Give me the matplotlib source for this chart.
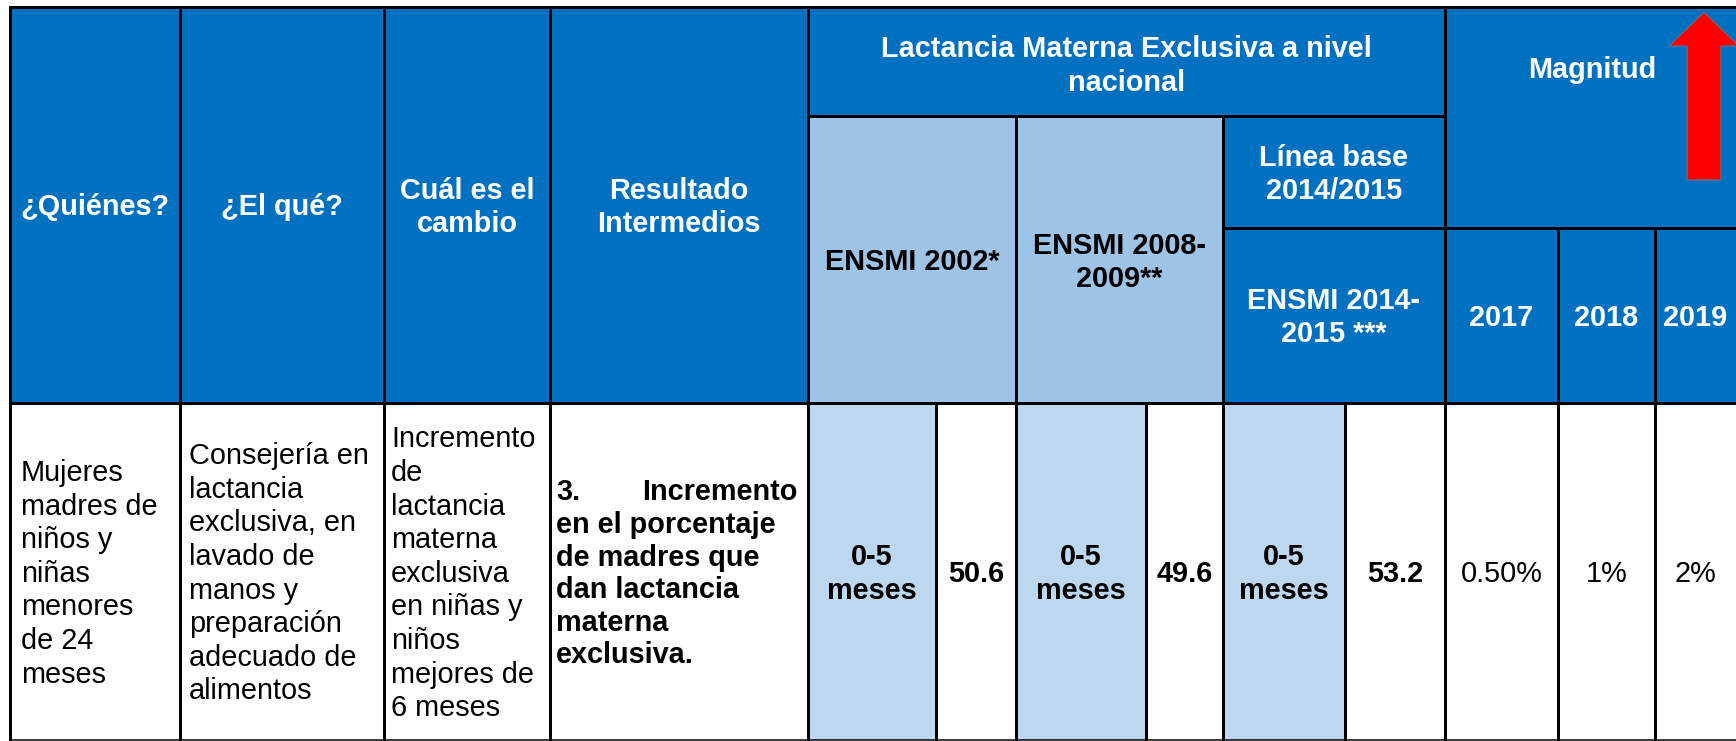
import matplotlib
matplotlib.use('Agg')
import matplotlib.pyplot as plt
from matplotlib.patches import Rectangle, Polygon

plt.rcParams['font.family'] = ['Liberation Sans', 'DejaVu Sans']

# ---------------- data ----------------
header_main = ['¿Quiénes?', '¿El qué?', 'Cuál es el\ncambio', 'Resultado\nIntermedios']
group_title = 'Lactancia Materna Exclusiva a nivel\nnacional'
baseline_title = 'Línea base\n2014/2015'
surveys = ['ENSMI 2002*', 'ENSMI 2008-\n2009**', 'ENSMI 2014-\n2015 ***']
age_groups = ['0-5\nmeses', '0-5\nmeses', '0-5\nmeses']
lme_values = [50.6, 49.6, 53.2]
magnitud_title = 'Magnitud'
magnitud_years = ['2017', '2018', '2019']
magnitud_targets = ['0.50%', '1%', '2%']
quienes = ['Mujeres', 'madres de', 'niños y', 'niñas', 'menores', 'de 24', 'meses']
el_que = ['Consejería en', 'lactancia', 'exclusiva, en', 'lavado de', 'manos y',
          'preparación', 'adecuado de', 'alimentos']
cambio = ['Incremento', 'de', 'lactancia', 'materna', 'exclusiva', 'en niñas y',
          'niños', 'mejores de', '6 meses']
resultado = ['3. Incremento', 'en el porcentaje', 'de madres que', 'dan lactancia',
             'materna', 'exclusiva.']

# ---------------- layout ----------------
W, H, DPI = 1736, 741, 100
X = [10, 180, 384, 550, 808, 1016, 1223, 1445, 1558, 1655, 1736]
SUB = [936, 1146, 1345]
Y_TOP, Y_G, Y_B, Y_HB, Y_BOT = 7, 116, 228, 403, 740

DARK = '#0070C0'
LIGHT_HDR = '#9DC3E6'
LIGHT_CELL = '#BDD7EE'

FS = 20.8
EM = FS / 72 * DPI
CAP = 0.716 * EM
LW = 3 * 72 / DPI

fig = plt.figure(figsize=(W / DPI, H / DPI), dpi=DPI)
ax = fig.add_axes([0, 0, 1, 1])
ax.set_xlim(0, W)
ax.set_ylim(H, 0)
ax.axis('off')


def rect(x0, y0, x1, y1, color):
    ax.add_patch(Rectangle((x0, y0), x1 - x0, y1 - y0, facecolor=color,
                           edgecolor='none', zorder=1))


def hline(y, x0, x1, lw=LW):
    ax.plot([x0, x1], [y, y], color='black', lw=lw, solid_capstyle='projecting', zorder=3)


def vline(x, y0, y1, lw=LW):
    ax.plot([x, x], [y0, y1], color='black', lw=lw, solid_capstyle='projecting', zorder=3)


def block(x, yc, lines, sp, ha='center', color='black', weight='normal'):
    n = len(lines)
    y0 = yc - ((n - 1) * sp + CAP) / 2 + CAP
    out = []
    for i, s in enumerate(lines):
        ax.text(x, y0 + i * sp, s, ha=ha, va='baseline', fontsize=FS,
                color=color, fontweight=weight, zorder=4)
        out.append(y0 + i * sp)
    return out


# backgrounds
rect(X[0], Y_TOP, W, Y_HB, DARK)
rect(X[4], Y_G, X[6], Y_HB, LIGHT_HDR)
rect(X[0], Y_HB, W, Y_BOT, 'white')
for xs, xe in [(X[4], SUB[0]), (X[5], SUB[1]), (X[6], SUB[2])]:
    rect(xs, Y_HB, xe, Y_BOT, LIGHT_CELL)

# header texts
HSP = 33
hy = (Y_TOP + Y_HB) / 2
for i, lab in enumerate(header_main):
    block((X[i] + X[i + 1]) / 2, hy, lab.split('\n'), HSP, color='white', weight='bold')
block((X[4] + X[7]) / 2, 63.5, group_title.split('\n'), 34, color='white', weight='bold')
block(1592, 68, [magnitud_title], HSP, color='white', weight='bold')
block((X[4] + X[5]) / 2, 260, surveys[0].split('\n'), HSP, weight='bold')
block((X[5] + X[6]) / 2, 260, surveys[1].split('\n'), HSP, weight='bold')
block((X[6] + X[7]) / 2, (Y_G + Y_B) / 2, baseline_title.split('\n'), HSP,
      color='white', weight='bold')
block((X[6] + X[7]) / 2, (Y_B + Y_HB) / 2, surveys[2].split('\n'), HSP,
      color='white', weight='bold')
for i, yr in enumerate(magnitud_years):
    block((X[7 + i] + X[8 + i]) / 2, (Y_B + Y_HB) / 2, [yr], HSP,
          color='white', weight='bold')

# data row texts
DY = (Y_HB + Y_BOT) / 2
DSP = 33.6
block(21, DY, quienes, DSP, ha='left')
block(189, DY, el_que, DSP, ha='left')
block(391, DY, cambio, DSP, ha='left')
first, rest = resultado[0].split(' ', 1)
ys = block(556, DY, [first] + resultado[1:], 32.6, ha='left', weight='bold')
ax.text(798, ys[0], rest, ha='right', va='baseline', fontsize=FS,
        fontweight='bold', zorder=4)

lefts = [X[4], X[5], X[6]]
rights = [X[5], X[6], X[7]]
for i in range(3):
    block((lefts[i] + SUB[i]) / 2, DY, age_groups[i].split('\n'), 33.5, weight='bold')
    block((SUB[i] + rights[i]) / 2, DY, [f'{lme_values[i]:.1f}'], 33, weight='bold')
for i, v in enumerate(magnitud_targets):
    block((X[7 + i] + X[8 + i]) / 2, DY, [v], 33)

# grid lines
hline(Y_TOP, X[0], W)
hline(Y_G, X[4], X[7])
hline(Y_B, X[6], W)
hline(Y_HB, X[0], W)
hline(Y_BOT, X[0], W, lw=1.5 * 72 / DPI)
for x in [X[0], X[1], X[2], X[3], X[4], X[7]]:
    vline(x, Y_TOP, Y_BOT)
for x in [X[5], X[6]]:
    vline(x, Y_G, Y_BOT)
for x in [X[8], X[9]]:
    vline(x, Y_B, Y_BOT)
for x in SUB:
    vline(x, Y_HB, Y_BOT)

# red up arrow (Magnitud)
arrow = Polygon([(1704, 12), (1739, 46), (1721, 46), (1721, 180), (1687, 180),
                 (1687, 46), (1669, 46)], closed=True, facecolor='#FF0000',
                edgecolor='#5A6E8C', lw=1.0, zorder=5)
ax.add_patch(arrow)

fig.savefig('out.png', dpi=DPI, facecolor='white')
